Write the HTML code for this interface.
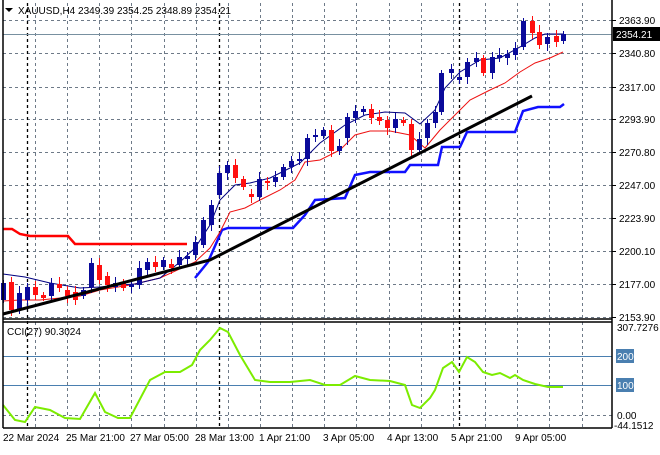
<!DOCTYPE html>
<html><head><style>
body{margin:0;background:#fff;width:660px;height:450px;overflow:hidden}
text{font-family:"Liberation Sans",sans-serif;font-size:10px;fill:#000}
</style></head><body>
<svg id="s" width="660" height="450" xmlns="http://www.w3.org/2000/svg">
<rect width="660" height="450" fill="#fff"/>
<g id="grid" stroke="#6e7a88" stroke-dasharray="3,3" stroke-width="1"></g>
<g id="vblack" stroke="#000" stroke-dasharray="3,3" stroke-width="1.3">
<line x1="27.5" y1="3" x2="27.5" y2="428"/><line x1="219.5" y1="3" x2="219.5" y2="428"/><line x1="459.5" y1="3" x2="459.5" y2="428"/>
</g>
<line x1="3" y1="34.5" x2="612" y2="34.5" stroke="#7890a0" stroke-width="1"/>
<line x1="3" y1="356.5" x2="612" y2="356.5" stroke="#4a7fb0"/>
<line x1="3" y1="385.5" x2="612" y2="385.5" stroke="#4a7fb0"/>
<polyline fill="none" stroke="#ff0000" stroke-width="2.5" points="3,229 12,229 20,234 30,236 68,236 75,244 187,244"/>
<polyline fill="none" stroke="#1010ff" stroke-width="2.5" points="195,278 208,262 215,246 222,230 228,228 293,228 305,215 315,200 345,198 355,175 370,172 405,172 410,165 438,165 442,147 460,147 467,132 515,132 523,111 538,107 560,107 564,104"/>
<polyline fill="none" stroke="#ee1111" stroke-width="1" points="3,301 20,300 40,300 60,298 80,296 100,290 130,285 160,278 195,262 210,248 220,232 230,212 245,208 260,200 280,190 295,180 305,162 320,160 340,150 355,135 370,131 390,131 410,135 425,148 440,130 455,115 470,100 490,90 505,83 520,72 535,63 550,58 563,52"/>
<polyline fill="none" stroke="#000080" stroke-width="1" points="3,274 25,277 50,283 80,288 100,287 120,285 135,284 160,278 180,262 195,248 210,225 220,200 235,185 250,183 270,178 290,168 300,163 320,143 345,125 365,115 385,112 405,113 420,124 435,110 445,88 460,72 480,60 500,58 520,47 535,38 545,34 563,34"/>
<g id="c"></g>
<polyline fill="none" stroke="#000" stroke-width="3" points="3,314 210,260 532,96"/>
<polyline fill="none" stroke="#7cec00" stroke-width="2" points="3,405 15,420 25,422 35,407 50,410 65,418 80,419 95,393 105,412 118,418 130,418 150,380 165,372 180,372 192,365 200,350 210,340 220,328 228,332 240,355 255,380 270,382 290,382 310,380 325,385 340,385 355,376 370,380 390,381 405,385 412,405 420,408 430,398 435,390 443,368 452,362 459,372 467,357 475,362 483,372 492,375 500,373 510,378 515,375 523,380 535,384 548,387 563,387"/>
<g stroke="#000" stroke-width="1.5">
<line x1="3" y1="0" x2="3" y2="428"/><line x1="612" y1="0" x2="612" y2="428"/>
<line x1="3" y1="319" x2="612" y2="319"/><line x1="3" y1="322" x2="612" y2="322"/>
<line x1="3" y1="428" x2="612" y2="428"/>
</g>
<g id="ticks" stroke="#000"></g>
<path d="M5,8 L13,8 L9,12 Z" fill="#000"/>
<text x="18" y="14">XAUUSD,H4  2349.39 2354.25 2348.89 2354.21</text>
<text x="7" y="335">CCI(27) 90.3024</text>
<g id="lab"></g>
<rect x="613" y="27" width="47" height="14" fill="#000"/>
<text x="616" y="38" style="fill:#fff">2354.21</text>
<rect x="616" y="349" width="18" height="14" fill="#4a7fb0"/><text x="617" y="360" style="fill:#fff">200</text>
<rect x="616" y="378" width="18" height="14" fill="#4a7fb0"/><text x="617" y="389" style="fill:#fff">100</text>
<text x="617" y="331">307.7276</text>
<text x="617" y="419">0.00</text>
<text x="614" y="429">-44.1512</text>
<text x="3" y="441">22 Mar 2024</text>
<text x="66" y="441">25 Mar 21:00</text>
<text x="130" y="441">27 Mar 05:00</text>
<text x="195" y="441">28 Mar 13:00</text>
<text x="259" y="441">1 Apr 21:00</text>
<text x="323" y="441">3 Apr 05:00</text>
<text x="387" y="441">4 Apr 13:00</text>
<text x="451" y="441">5 Apr 21:00</text>
<text x="515" y="441">9 Apr 05:00</text>
</svg>
<script>
var NS="http://www.w3.org/2000/svg";
function el(p,t,a){var e=document.createElementNS(NS,t);for(var k in a)e.setAttribute(k,a[k]);p.appendChild(e);return e;}
var g=document.getElementById('grid');
for(var x=35;x<=600;x+=32.15){var xx=Math.round(x)+.5;el(g,'line',{x1:xx,y1:3,x2:xx,y2:319});el(g,'line',{x1:xx,y1:322,x2:xx,y2:428});}
var py=[[20,"2363.90"],[53,"2340.80"],[87,"2317.00"],[119,"2293.90"],[152,"2270.80"],[185,"2247.00"],[218,"2223.90"],[251,"2200.10"],[284,"2177.00"],[317,"2153.90"]];
var lab=document.getElementById('lab'),tk=document.getElementById('ticks');
py.forEach(function(p){el(g,'line',{x1:3,y1:p[0]+.5,x2:612,y2:p[0]+.5});el(tk,'line',{x1:612,y1:p[0]+.5,x2:616,y2:p[0]+.5});var t=el(lab,'text',{x:619,y:p[0]+4});t.textContent=p[1];});
el(g,'line',{x1:3,y1:415.5,x2:612,y2:415.5});
var C=[[3,283,300,'b'],[11,282,310,'r'],[19,293,310,'b'],[27,287,300,'b'],[35,287,295,'r'],[43,295,298,'r'],[51,283,296,'b'],[59,284,288,'r'],[67,290,296,'r'],[75,292,300,'r'],[83,290,296,'b'],[91,263,287,'b'],[99,265,280,'r'],[107,276,285,'r'],[115,283,287,'b'],[123,282,288,'r'],[131,284,287,'b'],[139,268,285,'b'],[147,262,270,'b'],[155,262,267,'r'],[163,260,267,'b'],[171,264,268,'r'],[179,257,265,'b'],[187,256,259,'b'],[195,242,255,'b'],[203,220,245,'b'],[211,205,225,'b'],[219,173,195,'b'],[227,165,173,'b'],[235,165,178,'r'],[243,179,187,'r'],[251,194,197,'r'],[259,179,197,'b'],[267,181,183,'r'],[275,177,182,'b'],[283,167,177,'b'],[291,161,167,'b'],[299,159,161,'b'],[307,138,159,'b'],[315,135,137,'b'],[323,130,136,'b'],[331,130,151,'r'],[339,146,151,'b'],[347,117,138,'b'],[355,111,118,'b'],[363,109,112,'b'],[371,109,118,'r'],[379,117,121,'r'],[387,120,128,'r'],[395,119,128,'b'],[403,120,123,'r'],[411,124,150,'r'],[419,139,150,'b'],[427,123,138,'b'],[435,112,123,'b'],[441,73,112,'b'],[451,69,73,'b'],[459,77,80,'b'],[467,62,77,'b'],[476,58,62,'b'],[483,58,73,'r'],[492,57,73,'b'],[499,55,58,'b'],[507,54,58,'b'],[515,48,55,'b'],[523,21,47,'b'],[532,21,33,'r'],[539,32,45,'r'],[547,37,44,'b'],[556,36,42,'r'],[563,34,41,'b']];
var cg=document.getElementById('c');
C.forEach(function(c,i){var col=c[3]=='b'?'#0a0a9a':'#ff1010';var wt=c[1]-3-(i*7%5),wb=c[2]+3+(i*3%5);
el(cg,'line',{x1:c[0]+.5,y1:wt,x2:c[0]+.5,y2:wb,stroke:col,'stroke-width':1});
el(cg,'rect',{x:c[0]-2,y:c[1],width:5,height:Math.max(2,c[2]-c[1]),fill:col});});
</script>
</body></html>
